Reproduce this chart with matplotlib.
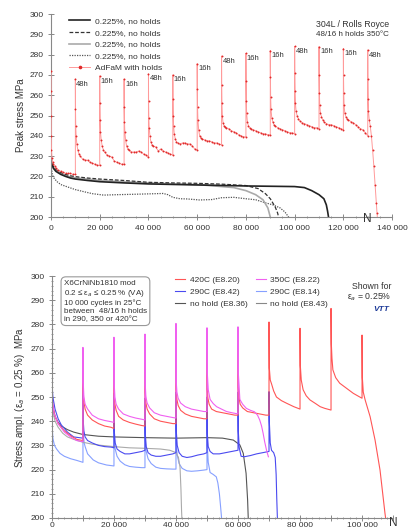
import numpy as np
import matplotlib
matplotlib.use('Agg')
import matplotlib.pyplot as plt
from matplotlib.ticker import MultipleLocator, FuncFormatter
from matplotlib.lines import Line2D

plt.rcParams['font.family'] = ['Liberation Sans', 'DejaVu Sans']

# ---------------- top panel data (304L / Rolls Royce) ----------------
red_n = [0, 20, 50, 100, 200, 400, 700, 1000, 1500, 2000, 3000, 4000, 5000, 6000, 7000, 8000, 9000, 10000,
         10000, 10050, 10150, 10300, 10600, 11000, 11500, 12000, 13000, 14000, 15000, 16000, 17000, 18000, 19000, 20000,
         20000, 20050, 20150, 20300, 20600, 21000, 21500, 22000, 23000, 24000, 25000, 26000, 27000, 28000, 29000, 30000,
         30000, 30050, 30150, 30300, 30600, 31000, 31500, 32000, 33000, 34000, 35000, 36000, 37000, 38000, 39000, 40000,
         40000, 40050, 40150, 40300, 40600, 41000, 41500, 42000, 43000, 44000, 45000, 46000, 47000, 48000, 49000, 50000,
         50000, 50050, 50150, 50300, 50600, 51000, 51500, 52000, 53000, 54000, 55000, 56000, 57000, 58000, 59000, 60000,
         60000, 60050, 60150, 60300, 60600, 61000, 61500, 62000, 63000, 64000, 65000, 66000, 67000, 68000, 69000, 70000,
         70000, 70050, 70150, 70300, 70600, 71000, 71500, 72000, 73000, 74000, 75000, 76000, 77000, 78000, 79000, 80000,
         80000, 80050, 80150, 80300, 80600, 81000, 81500, 82000, 83000, 84000, 85000, 86000, 87000, 88000, 89000, 90000,
         90000, 90050, 90150, 90300, 90600, 91000, 91500, 92000, 93000, 94000, 95000, 96000, 97000, 98000, 99000, 100000,
         100000, 100050, 100150, 100300, 100600, 101000, 101500, 102000, 103000, 104000, 105000, 106000, 107000, 108000, 109000, 110000,
         110000, 110050, 110150, 110300, 110600, 111000, 111500, 112000, 113000, 114000, 115000, 116000, 117000, 118000, 119000, 120000,
         120000, 120050, 120150, 120300, 120600, 121000, 121500, 122000, 123000, 124000, 125000, 126000, 127000, 128000, 129000, 130000,
         130000, 130050, 130150, 130300, 130600, 131000, 131500, 132000, 132500, 133000, 133500, 133800, 134000]
red_s = [272, 262, 250, 240, 233, 229, 227, 226, 225, 224, 223, 222.5, 222, 221.5, 221.5, 221.5, 221, 221,
         268, 253, 245, 240, 236, 233, 231, 230, 228.5, 228, 228, 227, 226.5, 226, 225.5, 225.5,
         269.5, 256, 248, 242, 238, 235, 233, 232, 230.5, 230, 229.5, 227.5, 227, 226.5, 226, 226,
         268, 254, 247, 242, 238, 235, 233.5, 233, 232, 232, 232, 232.5, 232, 231, 230.5, 229.5,
         270.5, 257, 249, 244, 240, 237, 235.5, 235, 234.5, 232.5, 233.5, 232.5, 232, 231.5, 231, 230.5,
         270, 258, 250, 245, 241, 238.5, 237, 236.5, 236, 236.5, 236.5, 236, 236, 235, 233.5, 233,
         275.5, 263, 254, 248, 243, 240, 239, 238.5, 238, 237.5, 237.5, 237, 236.5, 236.5, 236, 235.5,
         279.3, 265, 256, 250, 246.5, 245, 244.5, 244, 243.5, 242.5, 242, 241.5, 240.5, 240, 239.5, 239.5,
         280.6, 267, 257, 251, 247, 245, 244, 243.5, 243, 242.5, 242, 241.5, 241, 241, 240.5, 240.5,
         282, 269, 259, 253, 249, 247, 245.5, 245, 244, 243.5, 243, 242.5, 242, 241.5, 241.5, 241,
         284, 271, 262, 256, 252, 250, 248.5, 247.5, 246.5, 246, 245.5, 245, 244.5, 244, 244, 243.5,
         283.9, 270, 261, 255, 251, 249.5, 248, 247, 246, 245.5, 245.5, 245, 244.5, 244, 243.5, 243,
         283, 270, 261, 255, 251, 249.5, 248.5, 248, 247, 246.5, 245.5, 244.5, 243.5, 243, 241.5, 240,
         282.3, 268, 258, 252, 248, 245, 240, 233, 225, 216, 207, 202, 199]

hold_n = [10000, 20000, 30000, 40000, 50000, 60000, 70000, 80000, 90000, 100000, 110000, 120000, 130000]
hold_txt = ['48h', '16h', '16h', '48h', '16h', '16h', '48h', '16h', '16h', '48h', '16h', '16h', '48h']

k_solid_n = [0, 300, 1000, 2000, 4000, 6000, 8000, 10000, 15000, 20000, 30000, 40000, 60000, 80000, 100000,
             104000, 107000, 110000, 112000, 113000, 113500, 113900, 114000]
k_solid_s = [229, 226, 224, 222.5, 221, 220, 219.2, 218.7, 218, 217.4, 216.8, 216.3, 215.8, 215.3, 215,
             214.5, 213, 211, 209, 206, 203, 200, 198]

k_dash_n = [0, 300, 1000, 2000, 4000, 6000, 8000, 10000, 15000, 20000, 30000, 40000, 50000, 60000, 70000,
            80000, 85000, 88000, 90000, 92000, 93000, 93400, 93500]
k_dash_s = [229, 227, 225, 223.5, 222, 221, 220.3, 219.9, 219.2, 218.7, 218, 217.1, 216.8, 216.6, 216.2,
            215.5, 214, 211.5, 209, 205, 202, 200, 198]

g_solid_n = [0, 300, 1000, 2000, 4000, 6000, 8000, 10000, 20000, 30000, 40000, 50000, 60000, 70000, 75000,
             80000, 84000, 87000, 89000, 90000, 90100]
g_solid_s = [229, 226.5, 224.5, 223, 221.5, 220.5, 219.7, 219.3, 218, 217.3, 216.8, 216.3, 216, 215, 214.5,
             213, 211, 208.5, 204.5, 200, 198]

k_dot_n = [0, 200, 500, 1000, 2500, 4000, 6600, 10000, 13400, 17000, 21600, 27000, 34000, 40000, 46000,
           48000, 50000, 53000, 56000, 61000, 66000, 70000, 75000, 80000, 84000, 88000, 91000, 94000, 96000,
           97500, 97600]
k_dot_s = [229, 224, 221, 219.5, 217.4, 216, 214.9, 213.5, 212.5, 211.5, 210.8, 211, 211.2, 211.4, 211.6,
           211, 209.7, 209, 208.9, 208.4, 208.6, 209.5, 209.7, 209, 208.5, 207, 206, 204.5, 202.5,
           200, 198]

# ---------------- bottom panel data (X6CrNiNb1810 mod) ----------------
r420_n = [0, 300, 1000, 2000, 4000, 6000, 8000, 10000,
          10000, 10100, 10300, 10700, 11500, 13000, 15000, 17000, 19000, 20000,
          20000, 20100, 20300, 20700, 21500, 23000, 25000, 27000, 29000, 30000,
          30000, 30100, 30300, 30700, 31500, 33000, 35000, 37000, 39000, 40000,
          40000, 40100, 40300, 40700, 41500, 43000, 45000, 47000, 49000, 50000,
          50000, 50100, 50300, 50700, 51500, 53000, 55000, 57000, 59000, 60000,
          60000, 60100, 60300, 60700, 61500, 63000, 65000, 67000, 69000, 70000,
          70000, 70100, 70400, 70800, 71500, 72400, 74000, 75700, 78000, 80000,
          80000, 80100, 80400, 81000, 82000, 83200, 85000, 86500, 88000, 90000,
          90000, 90100, 90300, 90600, 91500, 92800, 95000, 97200, 99400, 100000,
          100000, 100100, 100400, 101000, 102600, 104200, 105800, 107400, 107600, 107800]
r420_s = [250, 246, 242, 239, 236, 234, 232.5, 232,
          268, 252, 248, 245, 242.5, 240.5, 239, 238, 237.5, 237,
          271, 251, 247, 244.5, 242, 240.5, 239.5, 238.8, 238.2, 238,
          273, 252, 247.5, 245, 243, 241, 240, 239.5, 239, 239,
          276, 253, 249, 246.5, 244.5, 243, 242, 241.5, 241, 241,
          277, 253, 249.5, 247, 245, 244, 243.5, 243, 242.5, 242.5,
          278, 254, 250, 247, 245.5, 244, 243.5, 243, 242.5, 242.5,
          281, 262, 257, 255.5, 252.5, 250, 248.5, 247.4, 246, 245,
          278.4, 263, 257, 253, 250.5, 248.8, 247.3, 246, 245.3, 244.6,
          286.6, 272, 266, 261.2, 258, 255.7, 253.6, 251.5, 249.9, 249.5,
          275.6, 258, 252, 248.8, 241.9, 232.2, 219.8, 201.9, 200, 197]

m350_n = [0, 200, 700, 2000, 4000, 6000, 8000, 10000,
          10000, 10100, 10300, 10700, 11500, 13000, 15000, 17000, 19000, 20000,
          20000, 20100, 20300, 20700, 21500, 23000, 25000, 27000, 29000, 30000,
          30000, 30100, 30300, 30700, 31500, 33000, 35000, 37000, 39000, 40000,
          40000, 40100, 40300, 40700, 41500, 43000, 45000, 47000, 49000, 50000,
          50000, 50100, 50400, 51000, 52000, 53100, 55000, 56300, 58000, 60000,
          60000, 60100, 60600, 61500, 62700, 64000, 65300, 66300, 67000, 67600, 68100, 68600, 69200, 69800]
m350_s = [255, 248, 243, 239, 235.5, 233.5, 232, 231.5,
          270.5, 256, 250, 247, 245, 242.5, 241, 240.3, 239.8, 239.5,
          274.7, 255, 250, 247, 245, 243, 242, 241.3, 240.8, 240.5,
          276, 255, 250, 247.5, 245.5, 243.5, 242.5, 242, 241.5, 241.3,
          280.4, 256, 252, 249.5, 247.5, 246, 245, 244.5, 244, 244,
          278.6, 260, 253, 249, 247.3, 246, 244.8, 244, 243.5, 243,
          279, 260, 249, 247, 245.3, 244.5, 243.9, 242.5, 240.5, 238, 235, 231.5, 228, 225.3]

b42_n = [0, 300, 1000, 2000, 3000, 5000, 7000, 10000,
         10000, 10100, 10300, 10700, 11500, 13000, 15000, 17000, 19000, 20000,
         20000, 20100, 20400, 21000, 22000, 23500, 25000, 27000, 29000, 30000,
         30000, 30100, 30400, 31000, 32000, 33500, 35000, 37000, 39000, 40000,
         40000, 40100, 40400, 41000, 42000, 43500, 45000, 47000, 49000, 50000,
         50000, 50100, 50400, 51000, 52000, 54000, 56000, 58000, 60000,
         60000, 60100, 60400, 61000, 62000, 64000, 66000, 68000, 70000,
         70000, 70100, 70400, 70800, 71500, 72000, 72300, 72500, 72700, 72750]
b42_s = [256, 250, 245, 241, 238.5, 235.5, 233.5, 233,
         257.7, 240, 236, 233.5, 232, 231, 230, 229.5, 229.3, 229,
         251.5, 236, 231, 228.5, 227.5, 226.5, 226.5, 227, 227.5, 228,
         249.5, 235, 229.5, 227, 226, 225.5, 225.5, 226, 226.5, 227,
         252, 236, 230, 227, 225.5, 225, 225.3, 226, 226.5, 227,
         250, 235, 229.5, 227.5, 226.5, 226.5, 227, 227.5, 228,
         252, 236, 229, 225.5, 225.3, 225.8, 226.5, 227, 227.5,
         252.2, 240, 231, 228, 227, 225, 218, 208, 200, 197]

b14_n = [0, 100, 300, 800, 1500, 2600, 4000, 6000, 8000, 10000,
         10000, 10100, 10400, 10700, 11500, 13300, 15000, 17600, 20000,
         20000, 20100, 20400, 21000, 22000, 23500, 25000, 27000, 29000, 30000,
         30000, 30100, 30400, 31000, 32000, 33500, 35000, 37000, 39000, 40000,
         40000, 40100, 40400, 41000, 42000, 43500, 45000, 47000, 49000, 50000,
         50000, 50100, 50400, 51000, 52000, 53000, 53500, 54000, 54400, 54700, 54800]
b14_s = [244, 237, 233, 230, 228.5, 226.7, 225.5, 224.5, 223.8, 223,
         246, 235, 231, 229.5, 226.5, 224, 222.8, 221.9, 221.5,
         245, 233, 228.5, 225.5, 223.5, 222, 221.3, 221, 220.8, 220.8,
         244, 232, 227.5, 224.5, 222.5, 221, 220.5, 220.3, 220.2, 220.2,
         243, 231, 226, 222.5, 220.5, 219.5, 219.3, 219.5, 219.8, 220,
         242, 230, 223, 218.8, 218, 217, 214.5, 210, 204.5, 200, 197]

nh36_n = [0, 300, 1000, 2000, 3000, 5000, 7000, 10000, 15000, 20000, 30000, 40000, 50000, 55000, 58500,
          60600, 61700, 62600, 63100, 63300, 63350]
nh36_s = [252, 246, 242, 239.5, 238, 236.5, 235.5, 234.5, 233.8, 233.5, 233.2, 233, 233.2, 233, 232.2,
          230.2, 226.7, 218.5, 207.4, 200, 197]

nh43_n = [0, 300, 1000, 2000, 3500, 5000, 7000, 10000, 13000, 16000, 20000, 25000, 30000, 35000, 38000,
          40000, 40800, 41300, 41600, 41800, 41900, 41950]
nh43_s = [249, 244, 240, 237.5, 235, 233.5, 232.5, 231.3, 230.5, 230, 229.5, 229, 228.8, 228.5, 228,
          227, 225, 221, 212, 203, 200, 197]

fig = plt.figure(figsize=(4.09, 5.31), dpi=100)
ax1 = fig.add_axes([0.1247, 0.5913, 0.834, 0.3823])
ax2 = fig.add_axes([0.127, 0.0245, 0.834, 0.4557])

spine_c = '#888888'
txt_c = '#333333'


def thousands(v, pos):
    if v == 0:
        return '0'
    return f"{int(v):,}".replace(',', ' ')


for ax in (ax1, ax2):
    for s in ('top', 'right'):
        ax.spines[s].set_visible(False)
    for s in ('left', 'bottom'):
        ax.spines[s].set_color(spine_c)
        ax.spines[s].set_linewidth(0.8)
    ax.tick_params(which='both', direction='inout', colors=spine_c, labelcolor=txt_c, labelsize=6)
    ax.tick_params(which='major', length=4, width=0.7)
    ax.tick_params(which='minor', length=2, width=0.6)
    ax.set_ylim(200, 300)
    ax.yaxis.set_major_locator(MultipleLocator(10))

# ---- top panel ----
ax1.set_xlim(0, 140000)
ax1.xaxis.set_major_locator(MultipleLocator(20000))
ax1.xaxis.set_minor_locator(MultipleLocator(5000))
ax1.xaxis.set_major_formatter(FuncFormatter(thousands))

ax1.plot(k_dot_n, k_dot_s, color='#555555', lw=0.9, ls=(0, (1, 1)))
ax1.plot(g_solid_n, g_solid_s, color='#aaaaaa', lw=1.2)
ax1.plot(k_dash_n, k_dash_s, color='#333333', lw=0.9, ls=(0, (3, 1.5)))
ax1.plot(k_solid_n, k_solid_s, color='#222222', lw=1.2)
ax1.plot(red_n, red_s, color='#ff9a9a', lw=0.7, zorder=3)
ax1.plot(red_n, red_s, ls='none', marker='o', ms=1.4, mew=0, color='#e02a2a', zorder=4)

red_n_arr = np.array(red_n)
red_s_arr = np.array(red_s)
for n, t in zip(hold_n, hold_txt):
    peak = red_s_arr[red_n_arr == n].max()
    ax1.text(n + 400, peak - 2.5, t, fontsize=5.5, color=txt_c, ha='left', va='center')

handles = [Line2D([], [], color='#222222', lw=1.2),
           Line2D([], [], color='#333333', lw=0.9, ls=(0, (3, 1.5))),
           Line2D([], [], color='#aaaaaa', lw=1.2),
           Line2D([], [], color='#555555', lw=0.9, ls=(0, (1, 1))),
           Line2D([], [], color='#ff9a9a', lw=0.7, marker='o', ms=1.6, mfc='#e02a2a', mec='#e02a2a')]
labels = ['0.225%, no holds', '0.225%, no holds', '0.225%, no holds', '0.225%, no holds', 'AdFaM with holds']
ax1.legend(handles, labels, loc='upper left', bbox_to_anchor=(0.03, 1.02), frameon=False, fontsize=6,
           handlelength=2.6, labelspacing=0.45, handletextpad=0.5, labelcolor=txt_c)

ax1.text(0.99, 0.97, '304L / Rolls Royce', transform=ax1.transAxes, fontsize=6.3, color=txt_c, ha='right', va='top')
ax1.text(0.99, 0.915, '48/16 h holds 350°C', transform=ax1.transAxes, fontsize=5.8, color=txt_c, ha='right', va='top')
ax1.text(130000, 198.9, 'N', fontsize=8.5, color=txt_c, ha='center', va='center')
ax1.set_ylabel('Peak stress MPa', fontsize=7, color=txt_c, labelpad=2)

# ---- bottom panel ----
ax2.set_xlim(0, 110000)
ax2.xaxis.set_major_locator(MultipleLocator(10000))
ax2.xaxis.set_minor_locator(MultipleLocator(2000))
ax2.yaxis.set_minor_locator(MultipleLocator(2))
ax2.xaxis.set_major_formatter(FuncFormatter(lambda v, p: thousands(v, p) if v % 20000 == 0 and v <= 100000 else ''))
ax2.tick_params(axis='x', which='major', pad=1)

lw2 = 0.8
ax2.plot(b14_n, b14_s, color='#86a0ff', lw=lw2)
ax2.plot(nh43_n, nh43_s, color='#aaaaaa', lw=lw2)
ax2.plot(nh36_n, nh36_s, color='#555555', lw=lw2)
ax2.plot(b42_n, b42_s, color='#4a4af0', lw=lw2)
ax2.plot(r420_n, r420_s, color='#ff5555', lw=lw2)
ax2.plot(m350_n, m350_s, color='#f060f0', lw=lw2)

h2 = [Line2D([], [], color='#ff5555', lw=lw2), Line2D([], [], color='#4a4af0', lw=lw2),
      Line2D([], [], color='#555555', lw=lw2), Line2D([], [], color='#f060f0', lw=lw2),
      Line2D([], [], color='#86a0ff', lw=lw2), Line2D([], [], color='#888888', lw=lw2)]
l2 = ['420C (E8.20)', '290C (E8.42)', 'no hold (E8.36)', '350C (E8.22)', '290C (E8.14)', 'no hold (E8.43)']
ax2.legend(h2, l2, ncol=2, loc='upper left', bbox_to_anchor=(0.34, 1.03), frameon=False, fontsize=6,
           handlelength=1.2, labelspacing=0.5, handletextpad=0.5, columnspacing=1.0, labelcolor=txt_c)

box_txt = ('X6CrNiNb1810 mod\n0.2 ≤ ε$_a$ ≤ 0.25 % (VA)\n10 000 cycles in 25°C\n'
           'between  48/16 h holds\nin 290, 350 or 420°C')
ax2.text(0.035, 0.985, box_txt, transform=ax2.transAxes, fontsize=5.8, color=txt_c, ha='left', va='top',
         linespacing=1.15,
         bbox=dict(boxstyle='round,pad=0.35,rounding_size=0.6', fc='white', ec='#999999', lw=0.8))

ax2.text(0.995, 0.975, 'Shown for\nε$_a$ = 0.25%', transform=ax2.transAxes, fontsize=6.3, color=txt_c,
         ha='right', va='top', linespacing=1.0)
ax2.text(0.99, 0.875, 'VTT', transform=ax2.transAxes, fontsize=6, color='#1f3c99', ha='right', va='top',
         style='italic', weight='bold')
ax2.text(110000, 197.9, 'N', fontsize=8.5, color=txt_c, ha='center', va='center')
ax2.set_ylabel('Stress ampl. (ε$_a$ = 0.25 %)  MPa', fontsize=7, color=txt_c, labelpad=2)

fig.savefig('out.png', dpi=100)
